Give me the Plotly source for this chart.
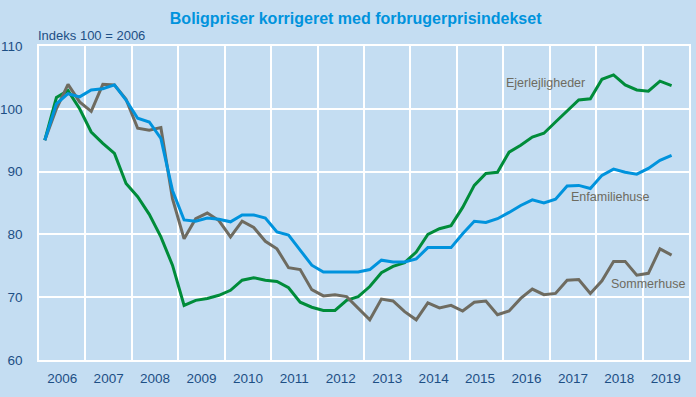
import plotly.graph_objects as go

years = list(range(2006, 2020))
quarters = [2006 + i / 4 + 0.125 for i in range(55)]

enfamiliehuse = [95.0, 100.8, 102.4, 101.9, 103.0, 103.2, 103.8, 101.4, 98.5, 97.9,
                 95.3, 87.0, 82.3, 82.1, 82.6, 82.4, 82.0, 83.1, 83.1, 82.6,
                 80.4, 79.9, 77.5, 75.1, 74.0, 74.0, 74.0, 74.0, 74.4, 75.9,
                 75.6, 75.6, 76.1, 77.9, 77.9, 77.9, 80.1, 82.1, 81.9, 82.5,
                 83.5, 84.6, 85.5, 85.0, 85.6, 87.7, 87.8, 87.3, 89.4, 90.4,
                 89.9, 89.6, 90.5, 91.8, 92.6]

ejerlejligheder = [95.0, 101.8, 102.9, 100.0, 96.3, 94.5, 92.9, 88.1, 86.0, 83.2,
                   79.6, 75.1, 68.7, 69.5, 69.8, 70.3, 71.1, 72.7, 73.1, 72.7,
                   72.5, 71.5, 69.2, 68.4, 67.9, 67.9, 69.5, 70.1, 71.7, 73.9,
                   74.9, 75.5, 77.2, 80.0, 80.9, 81.4, 84.3, 87.8, 89.7, 89.9,
                   93.1, 94.2, 95.5, 96.1, 97.9, 99.6, 101.4, 101.6, 104.7, 105.4,
                   103.8, 103.0, 102.8, 104.4, 103.7]

sommerhuse = [95.0, 100.0, 103.9, 101.1, 99.6, 103.9, 103.8, 101.5, 96.9, 96.6,
              97.0, 85.7, 79.3, 82.5, 83.4, 82.2, 79.6, 82.1, 81.1, 78.9,
              77.7, 74.7, 74.4, 71.2, 70.2, 70.4, 70.1, 68.3, 66.4, 69.7,
              69.4, 67.7, 66.4, 69.1, 68.3, 68.7, 67.8, 69.2, 69.4, 67.2,
              67.8, 69.8, 71.3, 70.4, 70.6, 72.7, 72.8, 70.6, 72.6, 75.7,
              75.7, 73.5, 73.8, 77.7, 76.7]

series = [
    ("Ejerlejligheder", ejerlejligheder, "#008c3a"),
    ("Sommerhuse", sommerhuse, "#6e6b60"),
    ("Enfamiliehuse", enfamiliehuse, "#0093dd"),
]

FONT = "Liberation Sans Narrow, Arial Narrow, Liberation Sans, Arial, sans-serif"
BG = "#c4ddf2"
TXT = "#1d4f85"
LBL = "#6e6b60"

fig = go.Figure()
for name, vals, col in series:
    fig.add_trace(go.Scatter(x=quarters, y=vals, mode="lines", name=name,
                             line=dict(color=col, width=3)))

fig.add_annotation(x=2016.9, y=104.1, text="Ejerlejligheder", showarrow=False,
                   font=dict(family=FONT, size=12.5, color=LBL), xanchor="center")
fig.add_annotation(x=2018.3, y=86.0, text="Enfamiliehuse", showarrow=False,
                   font=dict(family=FONT, size=12.5, color=LBL), xanchor="center")
fig.add_annotation(x=2019.12, y=72.1, text="Sommerhuse", showarrow=False,
                   font=dict(family=FONT, size=12.5, color=LBL), xanchor="center")
fig.add_annotation(x=0, xref="paper", y=1.003, yref="paper", text="Indeks 100 = 2006",
                   showarrow=False, xanchor="left", yanchor="bottom", xshift=-3,
                   font=dict(family=FONT, size=13, color=TXT))

fig.update_layout(
    width=696, height=397,
    paper_bgcolor=BG, plot_bgcolor=BG,
    margin=dict(l=39, r=7, t=46, b=37),
    showlegend=False,
    title=dict(text="<b>Boligpriser korrigeret med forbrugerprisindekset</b>",
               x=0.511, xanchor="center", y=0.953, yanchor="middle",
               font=dict(family=FONT, size=16, color="#0093dd")),
    font=dict(family=FONT, size=13.5, color=TXT),
)
fig.update_xaxes(
    range=[2006, 2020], automargin=False,
    tickmode="array", tickvals=[y + 0.5 for y in years], ticktext=[str(y) for y in years],
    showgrid=False, zeroline=False, ticks="",
    showline=True, linecolor="white", linewidth=1.5, mirror=True,
    minor=dict(tickmode="linear", tick0=2006, dtick=1, showgrid=True,
               gridcolor="white", gridwidth=1.5, ticks=""),
    ticklabelstandoff=5,
    tickfont=dict(family=FONT, size=13.5, color=TXT),
)
fig.update_yaxes(
    range=[60, 110], dtick=10, tick0=60, automargin=False,
    showgrid=True, gridcolor="white", gridwidth=1.5, zeroline=False,
    showline=True, linecolor="white", linewidth=1.5, mirror=True,
    ticks="", ticklabelstandoff=12,
    tickfont=dict(family=FONT, size=13.5, color=TXT),
)

fig.write_html("out.html", config={"displayModeBar": False},
               post_script="document.body.style.margin='0';")
